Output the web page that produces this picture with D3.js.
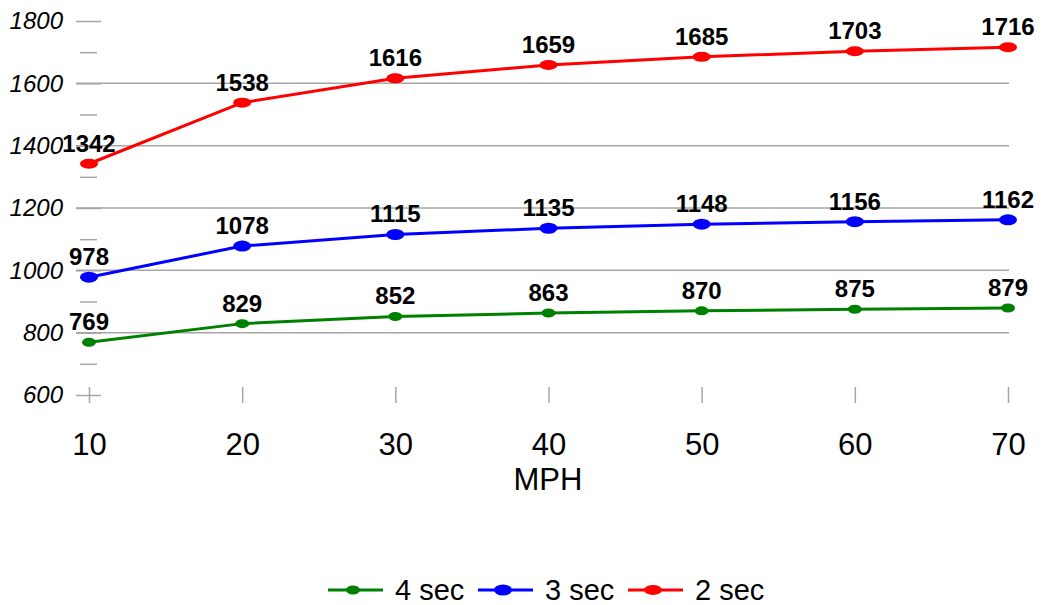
<!DOCTYPE html>
<html>
<head>
<meta charset="utf-8">
<script src="https://cdn.jsdelivr.net/npm/d3@7"></script>
<style>
  html, body { margin: 0; padding: 0; background: #fff; }
  svg { display: block; font-family: "Liberation Sans", Arial, sans-serif; }
</style>
</head>
<body>
<svg id="chart" width="1042" height="605"></svg>
<script>
// Speeds along the x axis
const speeds = [10, 20, 30, 40, 50, 60, 70];
// Values for each interval series
const sec4 = [769, 829, 852, 863, 870, 875, 879];
const sec3 = [978, 1078, 1115, 1135, 1148, 1156, 1162];
const sec2 = [1342, 1538, 1616, 1659, 1685, 1703, 1716];
const seriesNames = ["4 sec", "3 sec", "2 sec"];
const seriesColors = ["#008000", "#0000ff", "#ff0000"];
const yTicks = [600, 800, 1000, 1200, 1400, 1600, 1800];
const yMinorTicks = [700, 900, 1100, 1300, 1500, 1700];
const xTitle = "MPH";

const series = [
  { name: seriesNames[0], color: seriesColors[0], values: sec4, rx: 7, ry: 4.5 },
  { name: seriesNames[1], color: seriesColors[1], values: sec3, rx: 9, ry: 5.5 },
  { name: seriesNames[2], color: seriesColors[2], values: sec2, rx: 9, ry: 5 }
];

const svg = d3.select("#chart");
const gridColor = "#a6a6a6";

const x = d3.scalePoint().domain(speeds).range([89, 1008]).padding(0);
const y = d3.scaleLinear().domain([600, 1800]).range([395, 21]);

// Horizontal gridlines (inner major values only)
svg.append("g")
  .selectAll("line")
  .data(yTicks.filter(v => v > 600 && v < 1800))
  .join("line")
  .attr("x1", 76).attr("x2", 1009)
  .attr("y1", d => y(d)).attr("y2", d => y(d))
  .attr("stroke", gridColor).attr("stroke-width", 1.5);

// Y axis: major ticks with labels, minor ticks without
const yAxis = d3.axisLeft(y).tickValues(yTicks).tickSize(25).tickPadding(13)
  .tickFormat(d3.format("d"));
const gy = svg.append("g").attr("transform", "translate(101,0)").call(yAxis);
gy.select(".domain").remove();
gy.selectAll(".tick line").attr("stroke", gridColor).attr("stroke-width", 1.5);
gy.selectAll(".tick text")
  .attr("font-size", 24).attr("font-style", "italic").attr("fill", "#000")
  .attr("font-family", "Liberation Sans, Arial, sans-serif");

const yMinor = d3.axisLeft(y).tickValues(yMinorTicks).tickSize(17).tickFormat("");
const gym = svg.append("g").attr("transform", "translate(97,0)").call(yMinor);
gym.select(".domain").remove();
gym.selectAll(".tick line").attr("stroke", gridColor).attr("stroke-width", 1.5);

// X axis: short vertical ticks across the baseline, labels below
const xAxis = d3.axisBottom(x).tickSize(16).tickPadding(30);
const gx = svg.append("g").attr("transform", "translate(0,387)").call(xAxis);
gx.select(".domain").remove();
gx.selectAll(".tick line").attr("stroke", gridColor).attr("stroke-width", 1.5);
gx.selectAll(".tick text")
  .attr("font-size", 31).attr("fill", "#000")
  .attr("font-family", "Liberation Sans, Arial, sans-serif");

svg.append("text")
  .attr("x", 548).attr("y", 490)
  .attr("text-anchor", "middle")
  .attr("font-size", 31)
  .text(xTitle);

// Series lines, markers and value labels
const line = d3.line().x((d, i) => x(speeds[i])).y(d => y(d));

series.forEach(s => {
  const g = svg.append("g");
  g.append("path")
    .datum(s.values)
    .attr("d", line)
    .attr("fill", "none")
    .attr("stroke", s.color)
    .attr("stroke-width", 3);
  g.selectAll("ellipse")
    .data(s.values)
    .join("ellipse")
    .attr("cx", (d, i) => x(speeds[i]))
    .attr("cy", d => y(d))
    .attr("rx", s.rx).attr("ry", s.ry)
    .attr("fill", s.color);
  g.selectAll("text")
    .data(s.values)
    .join("text")
    .attr("x", (d, i) => x(speeds[i]))
    .attr("y", d => y(d) - 12)
    .attr("text-anchor", "middle")
    .attr("font-size", 24)
    .attr("font-weight", "bold")
    .attr("fill", "#000")
    .text(d => d);
});

// Legend
const legendX = [328, 478, 628];
const legend = svg.append("g");
series.forEach((s, i) => {
  const lg = legend.append("g").attr("transform", `translate(${legendX[i]},590)`);
  lg.append("line").attr("x1", 0).attr("x2", 55).attr("y1", 0).attr("y2", 0)
    .attr("stroke", s.color).attr("stroke-width", 3);
  lg.append("ellipse").attr("cx", 25).attr("cy", 0).attr("rx", s.rx).attr("ry", s.ry)
    .attr("fill", s.color);
  lg.append("text").attr("x", 67).attr("y", 10)
    .attr("font-size", 29).attr("fill", "#000").text(s.name);
});
</script>
</body>
</html>
